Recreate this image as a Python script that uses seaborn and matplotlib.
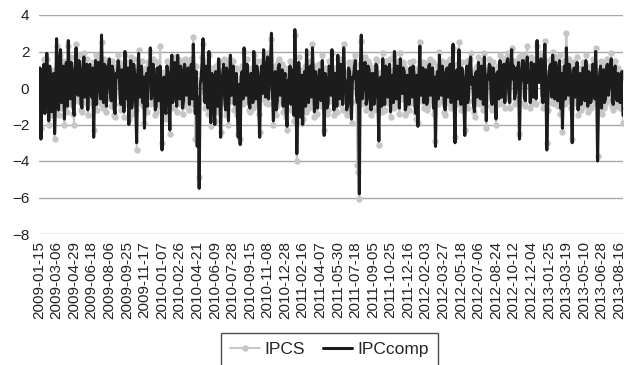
import numpy as np
import pandas as pd
import matplotlib
matplotlib.use("Agg")
import matplotlib.pyplot as plt
import seaborn as sns

tick_labels = [
    "2009-01-15", "2009-03-06", "2009-04-29", "2009-06-18", "2009-08-06", "2009-09-25",
    "2009-11-17", "2010-01-07", "2010-02-26", "2010-04-21", "2010-06-09", "2010-07-28",
    "2010-09-15", "2010-11-08", "2010-12-28", "2011-02-16", "2011-04-07", "2011-05-30",
    "2011-07-18", "2011-09-05", "2011-10-25", "2011-12-16", "2012-02-03", "2012-03-27",
    "2012-05-18", "2012-07-06", "2012-08-24", "2012-10-12", "2012-12-04", "2013-01-25",
    "2013-03-19", "2013-05-10", "2013-06-28", "2013-08-16",
]

ipccomp = [
    0.2, 1.1, -2.8, -0.4, 0.6, 1.3, -1.4, -0.2, 1.9, 0.4, -1.8, 1.2, 0.5, -1.3, -0.9, 0.8, -2.5, -0.7,
    2.7, -0.5, -1.2, 1.5, 2.1, -0.8, 0.3, 1.2, -1.7, 0.6, 1.4, -1.0, 2.6, 0.2, -0.6, 1.4, 0.9, -1.1,
    -1.5, 1.0, 2.2, -0.2, -0.4, 1.5, 0.9, -0.9, -1.1, 1.2, 1.7, -0.5, 0.2, 1.3, -1.2, 0.7, 1.3, -0.3,
    -0.5, 1.1, -2.7, 0.4, 1.5, -0.9, 0.3, 1.4, 0.8, -0.6, 2.9, 0.5, -0.8, 1.3, 1.2, -1.0, 0.4, 1.1,
    1.6, -0.3, -0.7, 1.2, 0.9, -1.2, -1.4, 0.8, 0.6, 1.5, 1.1, -0.6, -0.9, 1.0, 0.3, -1.3, 2.0, 0.2,
    -0.6, 1.1, -2.0, 0.5, 1.5, -1.1, -0.4, 1.3, 0.7, -0.9, -3.0, 0.6, 1.9, -0.5, 0.2, 1.2, -0.8, 0.6,
    -2.2, 0.3, 0.8, -1.0, 1.1, 0.4, 2.2, -0.6, -0.3, 1.3, 0.5, -1.2, -1.0, 1.1, 0.4, -0.7, 1.2, 0.1,
    -3.4, 0.4, 0.6, -1.1, -1.4, 1.2, 0.9, -0.5, -2.3, 0.6, 1.8, -0.8, -0.2, 1.4, 0.7, -1.0, 1.8, 0.3,
    -0.6, 1.2, 0.9, -1.1, -0.7, 1.3, 1.0, -0.4, 0.4, 1.1, -0.9, 0.7, 1.3, -0.6, 2.4, 0.5, -1.4, 0.9,
    -3.2, -0.5, -5.5, 0.2, 0.5, 1.4, 2.7, -0.3, -0.8, 1.2, 1.0, -1.1, 2.0, 0.3, -1.9, 0.8, 0.6, -0.7,
    -2.0, 0.9, 0.4, -1.0, 1.6, 0.5, -2.7, 0.3, 0.7, 1.3, -0.5, -1.2, 1.1, 0.6, -1.8, 0.4, 1.8, -0.4,
    0.3, 1.2, -0.9, 0.5, 0.8, -1.2, -2.7, 0.2, -3.1, 0.7, 0.9, -0.6, 2.2, 0.4, -0.4, 1.3, 0.6, -0.9,
    -1.1, 0.8, 0.7, -0.8, 2.0, 0.3, -0.6, 1.2, 0.8, -1.1, -2.7, 0.5, 1.2, -0.3, 2.1, 0.4, -0.5, 1.0,
    1.7, -0.6, 0.4, 1.3, 3.0, -0.2, -1.8, 0.6, 0.9, -1.2, -0.7, 1.1, 1.3, -0.4, 0.2, 1.0, -1.0, 0.5,
    0.8, -1.3, -2.1, 0.4, 0.5, 1.2, -0.9, 0.7, 1.0, -1.5, 3.2, 0.3, -3.6, -1.2, 1.4, 0.2, -1.6, 0.7,
    -2.0, 0.5, 0.9, -1.0, 2.1, 0.4, -0.8, 1.1, 1.2, -0.5, 2.2, 0.6, -1.3, 0.9, 0.5, -1.1, -0.4, 1.0,
    0.9, -0.7, 1.5, 0.3, -2.6, 0.8, 0.4, -1.1, -0.9, 1.2, 1.1, -0.4, 2.1, 0.5, -1.2, 0.8, 0.7, -1.0,
    1.8, 0.2, -0.6, 1.3, 0.8, -0.9, 2.2, 0.6, 0.1, -1.2, -1.0, 1.1, 0.9, -0.5, -1.7, 0.6, 0.5, 1.2,
    1.5, -0.4, -0.8, 0.9, -5.8, 1.0, 2.9, -0.6, 0.3, 1.3, 1.4, -0.9, -0.5, 1.2, 1.0, -0.7, -1.2, 0.8,
    0.8, -0.9, -0.4, 1.3, 1.2, -0.6, -2.9, 0.5, 0.6, -1.0, 1.6, 0.2, -0.9, 1.2, 1.1, -0.5, 0.2, 1.3,
    -1.3, 0.6, 0.7, -0.8, 2.0, 0.4, -0.6, 1.2, 1.0, -1.1, 1.6, 0.3, -0.3, 1.1, 0.9, -1.2, -1.0, 0.7,
    0.6, -0.9, 1.1, 0.3, -0.5, 1.2, 0.8, -1.0, -1.4, 0.7, -2.1, 0.5, 2.3, -0.4, 0.4, 1.1, -0.8, 0.6,
    1.0, -0.9, -0.7, 1.2, 1.3, -0.4, 0.2, 1.1, -1.1, 0.6, -3.2, 0.3, 0.9, -0.6, 1.8, 0.4, -0.4, 1.2,
    0.7, -1.0, -1.2, 0.9, 1.1, -0.5, 0.3, 1.3, -0.8, 0.8, 2.4, -0.7, -3.0, 0.5, 1.0, -0.6, 2.1, 0.4,
    -0.9, 1.1, 0.5, -0.7, -2.6, 0.6, 1.2, -0.8, -0.4, 1.3, 1.7, 0.2, 0.6, -1.0, -1.3, 0.8, 0.9, -0.5,
    1.4, 0.3, -0.6, 1.2, 0.8, -0.9, 1.7, 0.4, -1.8, 0.7, 0.5, 1.3, 1.2, -0.7, -0.9, 1.1, 0.7, -0.4,
    -1.7, 0.8, 0.9, -0.6, 1.5, 0.3, -0.5, 1.2, 1.3, -0.8, 0.4, 1.4, 1.6, -0.3, -0.8, 1.0, 2.1, 0.5,
    1.2, -0.6, -0.3, 1.1, 0.6, 1.4, -2.8, 0.2, 0.8, 1.5, 1.5, -0.5, -0.7, 1.2, 1.7, 0.3, 0.9, -0.8,
    1.4, 0.6, -0.5, 1.3, 1.2, -0.6, 2.6, 0.4, 0.3, 1.5, 1.6, -0.4, -0.8, 1.3, 2.4, 0.5, -3.4, -0.9,
    0.5, 1.2, 1.3, -0.5, 1.8, 0.4, -0.6, 1.4, 1.0, -0.7, 0.6, 1.5, -1.1, 0.8, -2.2, 0.3, 1.2, -0.6,
    2.2, 0.5, -0.4, 1.3, 0.9, -0.8, -3.0, 0.6, 1.1, -0.5, 0.4, 1.4, -1.2, 0.5, 0.8, -0.9, -0.5, 1.1,
    1.0, -0.7, 1.5, 0.4, -1.0, 0.9, 0.6, -0.8, -0.3, 1.3, 1.2, -0.6, 2.0, 0.3, -4.0, -0.5, 0.7, 1.2,
    -1.1, 0.6, 1.0, -0.8, -0.6, 1.1, 1.3, -0.4, 0.4, 1.2, 1.6, -0.7, -0.9, 1.0, 1.2, -0.5, -0.7, 0.8,
    0.3, -0.8, 0.6, 0.9, -1.5,
]

ipcs = [
    0.4, 0.8, -2.2, -0.7, 0.9, 1.6, -1.2, -0.5, 1.6, 0.7, -2.0, 0.9, 0.7, -1.5, -1.1, 1.0, -2.8, -0.4,
    2.3, -0.8, -1.5, 1.2, 1.8, -1.1, 0.6, 1.5, -2.0, 0.3, 1.2, -1.3, 2.3, 0.5, -0.9, 1.7, 1.1, -1.4,
    -2.0, 1.3, 2.4, -0.5, -0.7, 1.8, 1.2, -1.2, -1.3, 1.5, 1.9, -0.8, 0.4, 1.6, -1.5, 1.0, 1.0, -0.6,
    -0.8, 1.4, -2.3, 0.7, 1.8, -1.2, 0.5, 1.7, 1.1, -0.9, 2.5, 0.8, -1.1, 1.6, 1.4, -1.3, 0.7, 1.4,
    1.3, -0.6, -1.0, 1.5, 1.2, -1.5, -1.6, 1.1, 0.9, 1.8, 1.4, -0.9, -1.2, 1.3, 0.6, -1.6, 1.8, 0.5,
    -0.9, 1.4, -1.7, 0.8, 1.7, -1.4, -0.7, 1.6, 0.9, -1.2, -3.4, 0.9, 2.1, -0.8, 0.5, 1.5, -1.0, 0.9,
    -1.9, 0.6, 1.1, -1.3, 1.4, 0.7, 2.0, -0.9, -0.6, 1.6, 0.8, -1.5, -1.3, 1.4, 0.6, -1.0, 2.3, 0.4,
    -3.0, 0.7, 0.9, -1.4, -1.7, 1.5, 1.2, -0.8, -2.5, 0.9, 1.5, -1.1, -0.5, 1.7, 1.0, -1.3, 1.6, 0.6,
    -0.9, 1.5, 1.2, -1.4, -1.0, 1.6, 1.3, -0.7, 0.7, 1.4, -1.2, 1.0, 1.6, -0.9, 2.8, 0.8, -2.8, 1.2,
    -2.9, -0.8, -4.9, 0.5, 0.8, 1.7, 2.4, -0.6, -1.1, 1.5, 1.3, -1.4, 1.8, 0.6, -2.1, 1.1, 0.9, -1.0,
    -1.8, 1.2, 0.7, -1.3, 1.4, 0.8, -2.4, 0.6, 1.0, 1.6, -0.8, -1.5, 1.4, 0.9, -2.0, 0.7, 1.6, -0.7,
    0.6, 1.5, -1.2, 0.8, 1.1, -1.5, -2.5, 0.5, -2.8, 1.0, 1.2, -0.9, 2.0, 0.7, -0.7, 1.6, 0.9, -1.2,
    -1.3, 1.1, 1.0, -1.1, 1.8, 0.6, -0.9, 1.5, 1.1, -1.4, -2.4, 0.8, 1.5, -0.6, 1.9, 0.7, -0.8, 1.3,
    1.9, -0.9, 0.7, 1.6, 2.7, -0.5, -2.0, 0.9, 1.2, -1.5, -1.0, 1.4, 1.6, -0.7, 0.5, 1.3, -1.3, 0.8,
    1.1, -1.6, -2.3, 0.7, 0.8, 1.5, -1.2, 1.0, 1.3, -1.8, 2.9, 0.6, -4.0, -1.5, 1.7, 0.5, -1.9, 1.0,
    -1.7, 0.8, 1.2, -1.3, 1.9, 0.7, -1.1, 1.4, 1.5, -0.8, 2.4, 0.9, -1.6, 1.2, 0.8, -1.4, -0.7, 1.3,
    1.2, -1.0, 1.8, 0.6, -2.3, 1.1, 0.7, -1.4, -1.2, 1.5, 1.4, -0.7, 1.9, 0.8, -1.5, 1.1, 1.0, -1.3,
    1.6, 0.5, -0.9, 1.6, 1.1, -1.2, 2.4, 0.9, 0.4, -1.5, -1.3, 1.4, 1.2, -0.8, -1.9, 0.9, 0.8, 1.5,
    1.8, -0.7, -4.2, -4.6, -6.1, 1.3, 2.6, -0.9, 0.6, 1.6, 1.7, -1.2, -0.8, 1.5, 1.3, -1.0, -1.5, 1.1,
    1.1, -1.2, -0.7, 1.6, 1.5, -0.9, -3.1, 0.8, 0.9, -1.3, 1.9, 0.5, -1.2, 1.5, 1.4, -0.8, 0.5, 1.6,
    -1.6, 0.9, 1.0, -1.1, 1.8, 0.7, -0.9, 1.5, 1.3, -1.4, 1.9, 0.6, -0.6, 1.4, 1.2, -1.5, -1.3, 1.0,
    0.9, -1.2, 1.4, 0.6, -0.8, 1.5, 1.1, -1.3, -1.7, 1.0, -1.9, 0.8, 2.5, -0.7, 0.7, 1.4, -1.1, 0.9,
    1.3, -1.2, -1.0, 1.5, 1.6, -0.7, 0.5, 1.4, -1.4, 0.9, -2.9, 0.6, 1.2, -0.9, 2.0, 0.7, -0.7, 1.5,
    1.0, -1.3, -1.5, 1.2, 1.4, -0.8, 0.6, 1.6, -1.1, 1.1, 2.2, -1.0, -2.7, 0.8, 1.3, -0.9, 2.5, 0.7,
    -1.2, 1.4, 0.8, -1.0, -2.3, 0.9, 1.5, -1.1, -0.7, 1.6, 1.9, 0.5, 0.9, -1.3, -1.6, 1.1, 1.2, -0.8,
    1.7, 0.6, -0.9, 1.5, 1.1, -1.2, 1.9, 0.7, -2.2, 1.0, 0.8, 1.6, 1.5, -1.0, -1.2, 1.4, 1.0, -0.7,
    -2.0, 1.1, 1.2, -0.9, 1.8, 0.6, -0.8, 1.5, 1.6, -1.1, 0.7, 1.7, 1.9, -0.6, -1.1, 1.3, 2.2, 0.8,
    1.5, -0.9, -0.6, 1.4, 0.9, 1.7, -2.5, 0.5, 1.1, 1.8, 1.8, -0.8, -1.0, 1.5, 2.3, 0.6, 1.2, -1.1,
    1.7, 0.9, -0.8, 1.6, 1.5, -0.9, 2.3, 0.7, 0.6, 1.8, 1.9, -0.7, -1.1, 1.6, 2.6, 0.8, -3.0, -1.2,
    0.8, 1.5, 1.6, -0.8, 2.0, 0.7, -0.9, 1.7, 1.3, -1.0, 0.9, 1.8, -1.4, 1.1, -2.4, 0.6, 1.5, -0.9,
    3.0, 0.8, -0.7, 1.6, 1.2, -1.1, -2.8, 0.9, 1.4, -0.8, 0.7, 1.7, -1.5, 0.8, 1.1, -1.2, -0.8, 1.4,
    1.3, -1.0, 1.8, 0.7, -1.3, 1.2, 0.9, -1.1, -0.6, 1.6, 1.5, -0.9, 2.2, 0.6, -3.7, -0.8, 1.0, 1.5,
    -1.4, 0.9, 1.3, -1.1, -0.9, 1.4, 1.6, -0.7, 0.7, 1.5, 1.9, -1.0, -1.2, 1.3, 1.5, -0.8, -1.0, 1.1,
    0.7, -1.1, 0.9, 0.6, -1.9,
]

label_step = 18

sns.set_theme(style="white")
plt.rcParams["font.family"] = ["Liberation Sans", "DejaVu Sans"]

n = min(len(ipccomp), len(ipcs))
df = pd.DataFrame({"idx": np.arange(n), "IPCS": ipcs[:n], "IPCcomp": ipccomp[:n]})

fig = plt.figure(figsize=(6.33, 3.65), dpi=100)
ax = fig.add_axes([39 / 633, 1 - 234 / 365, (623 - 39) / 633, (234 - 15) / 365])

sns.lineplot(data=df, x="idx", y="IPCS", ax=ax, color="#c6c6c6", lw=1.4,
             marker="o", markersize=4.6, markeredgewidth=0, label="IPCS", zorder=2)
sns.lineplot(data=df, x="idx", y="IPCcomp", ax=ax, color="#1c1c1c", lw=2.2,
             label="IPCcomp", zorder=3)

ax.set_xlim(0, n - 1)
ax.set_ylim(-8, 4)
ax.set_yticks([-8, -6, -4, -2, 0, 2, 4])
ax.set_yticklabels(["\u22128", "\u22126", "\u22124", "\u22122", "0", "2", "4"])
ax.set_xticks(np.arange(len(tick_labels)) * label_step)
ax.set_xticklabels(tick_labels, rotation=90)
ax.tick_params(axis="both", length=0, labelsize=11, colors="#222222")
ax.tick_params(axis="x", pad=5)
ax.tick_params(axis="y", pad=7)
ax.set_xlabel("")
ax.set_ylabel("")
ax.grid(axis="y", color="#a8a8a8", lw=1.0)
ax.set_axisbelow(True)
for s in ax.spines.values():
    s.set_visible(False)

leg = ax.legend(loc="upper center", bbox_to_anchor=(329.5 / 633, 1 - 333 / 365),
                bbox_transform=fig.transFigure, ncol=2, frameon=True, fancybox=False,
                fontsize=12.5, handlelength=1.7, handletextpad=0.3, columnspacing=1.0,
                borderpad=0.5, borderaxespad=0, edgecolor="#222222")
leg.get_frame().set_linewidth(1.0)

fig.savefig("out.png", dpi=100)
